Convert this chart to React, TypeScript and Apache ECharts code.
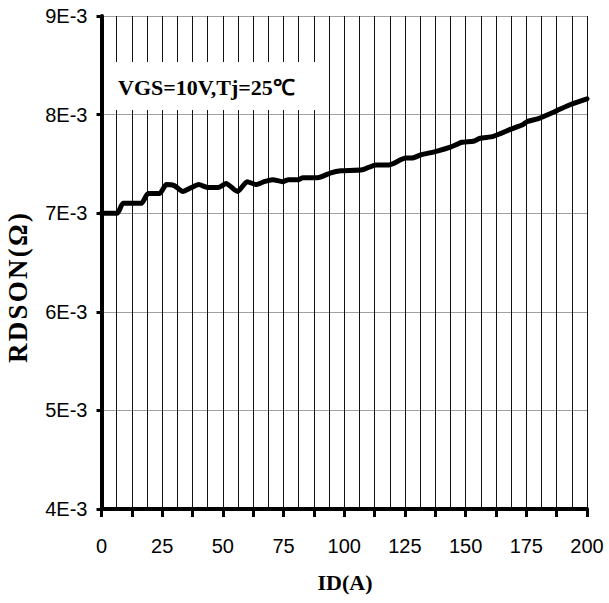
import React, { useEffect, useRef } from "react";
import * as echarts from "echarts";

// Drain current ID (A)
const idA = [0, 6.5, 8.9, 16.4, 19.2, 23.9, 26.7, 30, 33.5, 37, 40, 44, 48, 51.3, 56, 60, 63.7, 67, 70.5, 74.6, 77, 81, 83, 89, 94.5, 98.6, 107.5, 113, 118.4, 125.3, 128, 131.4, 138.3, 143.7, 148.5, 153.2, 156, 161.4, 168.4, 173.7, 175.4, 180, 187.6, 193, 200];
// RDSON in units of 1E-3 ohm
const rdson = [7.0, 7.0, 7.1, 7.1, 7.2, 7.2, 7.29, 7.28, 7.22, 7.26, 7.29, 7.26, 7.26, 7.3, 7.22, 7.32, 7.29, 7.32, 7.34, 7.32, 7.34, 7.34, 7.36, 7.36, 7.41, 7.43, 7.44, 7.49, 7.49, 7.56, 7.56, 7.59, 7.63, 7.67, 7.72, 7.73, 7.76, 7.78, 7.85, 7.9, 7.93, 7.96, 8.04, 8.1, 8.16];

const yTickValues = [4, 5, 6, 7, 8, 9];
const yTickLabels = ["4E-3", "5E-3", "6E-3", "7E-3", "8E-3", "9E-3"];
const xLabelValues = [0, 25, 50, 75, 100, 125, 150, 175, 200];
const xLabelTexts = ["0", "25", "50", "75", "100", "125", "150", "175", "200"];

const condition = "VGS=10V,Tj=25℃";
const xTitle = "ID(A)";
const yTitle = "RDSON(Ω)";

export default function App() {
  const ref = useRef<HTMLDivElement>(null);
  useEffect(() => {
    if (!ref.current) return;
    const chart = echarts.init(ref.current, null, { renderer: "svg" });
    const sans = "Liberation Sans";
    const serif = "Liberation Serif";
    const spacedYTitle = Array.from(yTitle).join("\u200A");
    chart.setOption({
      animation: false,
      backgroundColor: "#fff",
      grid: { left: 101.5, right: 22, top: 16, bottom: 94, containLabel: false },
      xAxis: {
        type: "value",
        min: 0,
        max: 200,
        interval: 12.5,
        axisLine: { show: true, onZero: false, lineStyle: { color: "#000", width: 4 } },
        axisTick: { show: true, length: 8, lineStyle: { color: "#000", width: 3 } },
        axisLabel: {
          margin: 27,
          color: "#000",
          fontFamily: sans,
          fontSize: 20,
          formatter: (v: number) => {
            const i = xLabelValues.indexOf(v);
            return i >= 0 ? xLabelTexts[i] : "";
          },
        },
        splitLine: { show: true, lineStyle: { color: "#111", width: 1 } },
        minorTick: { show: false, splitNumber: 2 },
        minorSplitLine: { show: true, lineStyle: { color: "#111", width: 1 } },
      },
      yAxis: {
        type: "value",
        min: 4,
        max: 9,
        interval: 1,
        axisLine: { show: true, onZero: false, lineStyle: { color: "#000", width: 4 } },
        axisTick: { show: true, length: 5, lineStyle: { color: "#000", width: 3 } },
        axisLabel: {
          margin: 14,
          color: "#000",
          fontFamily: sans,
          fontSize: 20,
          formatter: (v: number) => {
            const i = yTickValues.indexOf(v);
            return i >= 0 ? yTickLabels[i] : "";
          },
        },
        splitLine: { show: true, lineStyle: { color: "#a0a0a0", width: 1.2 } },
      },
      series: [
        {
          type: "line",
          data: idA.map((x, i) => [x, rdson[i]]),
          showSymbol: false,
          smooth: 0.2,
          lineStyle: { color: "#000", width: 5, join: "round", cap: "round" },
          z: 10,
        },
      ],
      graphic: [
        {
          type: "rect",
          shape: { x: 104, y: 62, width: 218, height: 48 },
          style: { fill: "#fff" },
          z: 50,
        },
        {
          type: "text",
          x: 118,
          y: 87,
          z: 51,
          style: {
            text: condition,
            fill: "#000",
            font: `bold 22px "${serif}"`,
            align: "left",
            verticalAlign: "middle",
          },
        },
        {
          type: "text",
          x: 345,
          y: 582,
          style: {
            text: xTitle,
            fill: "#000",
            font: `bold 22px "${serif}"`,
            align: "center",
            verticalAlign: "middle",
          },
        },
        {
          type: "text",
          x: 18,
          y: 288,
          rotation: Math.PI / 2,
          style: {
            text: spacedYTitle,
            fill: "#000",
            font: `bold 27px "${serif}"`,
            align: "center",
            verticalAlign: "middle",
          },
        },
      ],
    });
    return () => chart.dispose();
  }, []);
  return (
    <div
      ref={ref}
      style={{ position: "fixed", left: 0, top: 0, width: 609, height: 603, background: "#fff" }}
    />
  );
}
